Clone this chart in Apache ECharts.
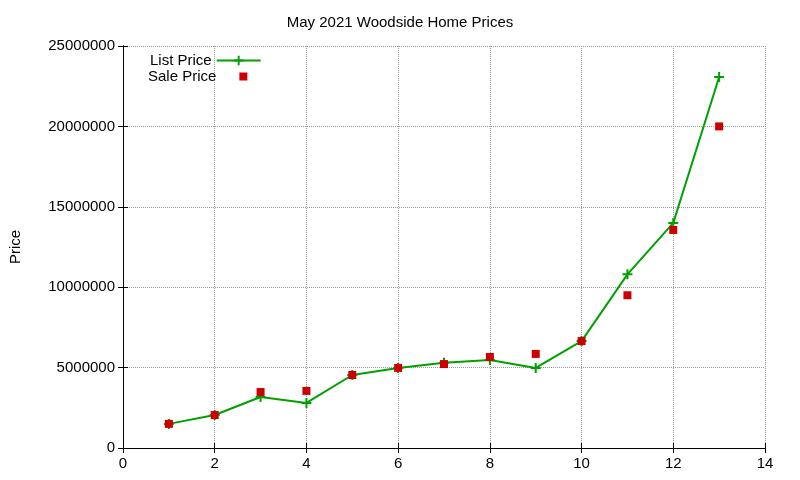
<!DOCTYPE html>
<html><head><meta charset="utf-8">
<script src="https://cdn.jsdelivr.net/npm/echarts@6/dist/echarts.min.js"></script>
<style>html,body{margin:0;padding:0;background:#fff}#c{width:800px;height:480px}</style>
</head><body><div id="c"></div>
<script>
const xs = [1,2,3,4,5,6,7,8,9,10,11,12,13];
const listPrice = [1500000,2050000,3170000,2800000,4540000,4980000,5300000,5470000,4980000,6650000,10800000,14000000,23070000];
const salePrice = [1500000,2050000,3480000,3550000,4540000,4980000,5220000,5660000,5850000,6650000,9500000,13560000,20000000];
const plus = 'path://M4,0L6,0L6,4L10,4L10,6L6,6L6,10L4,10L4,6L0,6L0,4L4,4Z';
const sq = 'path://M0,0L0,0M44,12L44,12M18,2L26,2L26,10L18,10Z';
const chart = echarts.init(document.getElementById('c'));
const font = 'Liberation Sans, Arial, sans-serif';
const ax = (extra)=>Object.assign({type:'value',axisLine:{show:true,lineStyle:{color:'#000'}},axisTick:{inside:true,lineStyle:{color:'#000'}},
  axisLabel:{color:'#000',fontFamily:font,fontSize:15,formatter:v=>String(v)},
  splitLine:{lineStyle:{type:'dotted',color:'#999'}}},extra);
chart.setOption({
  animation:false,
  title:{text:'May 2021 Woodside Home Prices',left:'center',top:10,textStyle:{fontFamily:font,fontSize:15,fontWeight:'normal',color:'#000'}},
  grid:{left:119,right:35,top:46,bottom:32},
  legend:[
    {orient:'vertical',left:145,top:48,align:'right',itemWidth:44,itemHeight:12,
     textStyle:{fontFamily:font,fontSize:15,color:'#000'},data:['List Price']},
    {orient:'vertical',left:143,top:64,align:'right',itemWidth:44,itemHeight:12,
     textStyle:{fontFamily:font,fontSize:15,color:'#000'},data:[{name:'Sale Price',icon:sq}]}
  ],
  xAxis:[ax({min:0,max:14,interval:2}),
         ax({min:0,max:14,interval:2,position:'top',axisLabel:{show:false},splitLine:{show:false}})],
  yAxis:[ax({min:0,max:25000000,interval:5000000,name:'Price',nameLocation:'middle',nameGap:100,
    nameTextStyle:{fontFamily:font,fontSize:15,color:'#000'}}),
         ax({min:0,max:25000000,interval:5000000,position:'right',axisLabel:{show:false},splitLine:{show:false}})],
  series:[
    {name:'List Price',type:'line',data:xs.map((x,i)=>[x,listPrice[i]]),symbol:plus,symbolSize:10,
     lineStyle:{color:'#00a000',width:2},itemStyle:{color:'#00a000'}},
    {name:'Sale Price',type:'scatter',data:xs.map((x,i)=>[x,salePrice[i]]),symbol:'rect',symbolSize:8,
     itemStyle:{color:'#cc0000',opacity:1},z:3}
  ]
});
</script></body></html>
